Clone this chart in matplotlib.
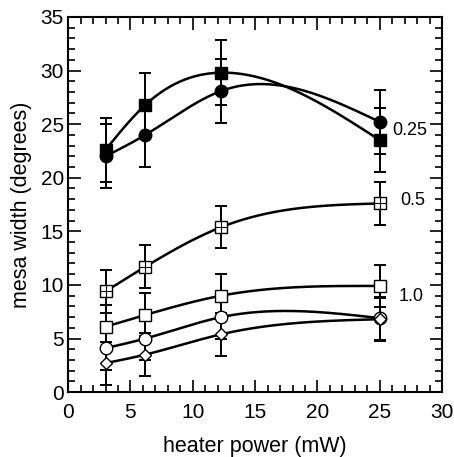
import numpy as np
import matplotlib.pyplot as plt
from matplotlib.ticker import MultipleLocator

plt.rcParams['font.family'] = ['Liberation Sans', 'DejaVu Sans']

# data
power = [3.0, 6.2, 12.3, 25.0]
sq_filled = [22.6, 26.8, 29.8, 23.5]
circ_filled = [22.0, 24.0, 28.1, 25.2]
sq_cross = [9.4, 11.7, 15.4, 17.6]
sq_open = [6.1, 7.2, 9.0, 9.9]
circ_open = [4.1, 5.0, 7.0, 6.9]
diam_open = [2.7, 3.5, 5.4, 6.8]
err_big = [3.0, 3.0, 3.0, 3.0]
err_small = [2.0, 2.0, 2.0, 2.0]
labels = ['0.25', '0.5', '1.0']
label_x = [26.0, 26.6, 26.5]
label_y = [24.4, 17.9, 8.9]


def natural_spline(x, y, xs):
    # natural cubic spline through the points
    x = np.asarray(x, float)
    y = np.asarray(y, float)
    n = len(x)
    h = np.diff(x)
    A = np.zeros((n, n))
    b = np.zeros(n)
    A[0, 0] = A[-1, -1] = 1
    for i in range(1, n - 1):
        A[i, i - 1] = h[i - 1]
        A[i, i] = 2 * (h[i - 1] + h[i])
        A[i, i + 1] = h[i]
        b[i] = 6 * ((y[i + 1] - y[i]) / h[i] - (y[i] - y[i - 1]) / h[i - 1])
    M = np.linalg.solve(A, b)
    out = np.empty_like(xs)
    for k, t in enumerate(xs):
        i = min(np.searchsorted(x, t) - 1, n - 2)
        i = max(i, 0)
        a, bb = x[i], x[i + 1]
        hh = bb - a
        out[k] = (M[i] * (bb - t) ** 3 / (6 * hh) + M[i + 1] * (t - a) ** 3 / (6 * hh)
                  + (y[i] / hh - M[i] * hh / 6) * (bb - t)
                  + (y[i + 1] / hh - M[i + 1] * hh / 6) * (t - a))
    return out


fig = plt.figure(figsize=(4.54, 4.57), dpi=100)
ax = fig.add_axes([0.150, 0.142, 0.824, 0.821])

xs = np.linspace(power[0], power[-1], 300)


def draw(y, err, marker, face, ms=9, cross=False):
    ax.plot(xs, natural_spline(power, y, xs), color='black', lw=1.8, zorder=2)
    ax.errorbar(power, y, yerr=err, fmt='none', ecolor='black', elinewidth=1.4,
                capsize=4.5, capthick=1.4, zorder=1)
    ax.plot(power, y, ls='none', marker=marker, ms=ms, mfc=face, mec='black',
            mew=1.0, zorder=3)
    if cross:
        ax.plot(power, y, ls='none', marker='+', ms=ms, mec='black', mew=0.8, zorder=4)


draw(sq_filled, err_big, 's', 'black', ms=9)
draw(circ_filled, err_big, 'o', 'black', ms=9)
draw(sq_cross, err_small, 's', 'white', ms=9, cross=True)
draw(sq_open, err_small, 's', 'white', ms=9)
draw(circ_open, err_small, 'o', 'white', ms=9)
draw(diam_open, err_small, 'D', 'white', ms=6.5)

for t, xx, yy in zip(labels, label_x, label_y):
    ax.text(xx, yy, t, fontsize=13, va='center', ha='left')

ax.set_xlim(0, 30)
ax.set_ylim(0, 35)
ax.xaxis.set_major_locator(MultipleLocator(5))
ax.xaxis.set_minor_locator(MultipleLocator(1))
ax.yaxis.set_major_locator(MultipleLocator(5))
ax.yaxis.set_minor_locator(MultipleLocator(1))
ax.tick_params(which='both', direction='in', top=True, right=True, width=1.2)
ax.tick_params(which='major', length=9, labelsize=15)
ax.tick_params(axis='x', which='major', pad=8)
ax.tick_params(axis='y', which='major', pad=3)
ax.tick_params(which='minor', length=5)
for s in ax.spines.values():
    s.set_linewidth(1.5)

ax.set_xlabel('heater power (mW)', fontsize=15.5, labelpad=10)
ax.set_ylabel('mesa width (degrees)', fontsize=15.5, labelpad=6)

fig.savefig('out.png', dpi=100)
